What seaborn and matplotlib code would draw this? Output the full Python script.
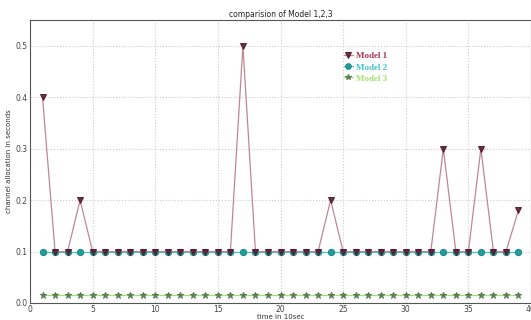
import numpy as np
import pandas as pd
import matplotlib
matplotlib.use("Agg")
import matplotlib.pyplot as plt
import seaborn as sns

# time steps (in 10 sec units)
time_steps = list(range(1, 40))

model1 = [0.4, 0.1, 0.1, 0.2, 0.1, 0.1, 0.1, 0.1, 0.1, 0.1,
          0.1, 0.1, 0.1, 0.1, 0.1, 0.1, 0.5, 0.1, 0.1, 0.1,
          0.1, 0.1, 0.1, 0.2, 0.1, 0.1, 0.1, 0.1, 0.1, 0.1,
          0.1, 0.1, 0.3, 0.1, 0.1, 0.3, 0.1, 0.1, 0.18]
model2 = [0.1] * 39
model3 = [0.015] * 39

x_ticks = [0, 5, 10, 15, 20, 25, 30, 35, 40]
y_ticks = [0.0, 0.1, 0.2, 0.3, 0.4, 0.5]

sns.set_style("whitegrid", {"grid.linestyle": ":", "grid.color": "#cccccc",
                            "axes.edgecolor": "#555555"})

df = pd.DataFrame({"t": time_steps, "Model 1": model1,
                   "Model 2": model2, "Model 3": model3})

fig = plt.figure(figsize=(5.31, 3.2), dpi=100)
ax = fig.add_axes([30 / 531, 1 - 303 / 320, 501 / 531, 283 / 320])

# Model 3 first, Model 2, then Model 1 on top
sns.lineplot(data=df, x="t", y="Model 3", ax=ax, color="#9de07c", lw=0.9,
             marker="*", markersize=4.5, markerfacecolor="#5d7d55",
             markeredgecolor="#5d7d55", label="Model 3")
sns.lineplot(data=df, x="t", y="Model 2", ax=ax, color="#55c0c0", lw=0.9,
             marker="o", markersize=4.5, markerfacecolor="#239c9c",
             markeredgecolor="#1f8a8a", label="Model 2")
sns.lineplot(data=df, x="t", y="Model 1", ax=ax, color="#b87a8a", lw=0.9,
             marker="v", markersize=4.5, markerfacecolor="#5e1a30",
             markeredgecolor="#4a1a2a", alpha=0.9, label="Model 1")

ax.set_xlim(0, 40)
ax.set_ylim(0, 0.55)
ax.set_xticks(x_ticks)
ax.set_yticks(y_ticks)
ax.set_xticklabels([str(v) for v in x_ticks])
ax.set_yticklabels([f"{v:.1f}" for v in y_ticks])
ax.tick_params(labelsize=5.5, colors="#444444", length=0, pad=1.5)
for s in ax.spines.values():
    s.set_color("#555555")
    s.set_linewidth(0.8)

ax.set_title("comparision of Model 1,2,3", fontsize=5.5, pad=2, color="#222222")
ax.set_xlabel("time in 10sec", fontsize=5, color="#333333", labelpad=0)
ax.set_ylabel("channel allocation in seconds", fontsize=5, color="#333333",
              labelpad=3)

handles, labels = ax.get_legend_handles_labels()
order = [2, 1, 0]
leg = ax.legend([handles[i] for i in order], [labels[i] for i in order],
                loc="upper left", bbox_to_anchor=(0.61, 0.915), frameon=False,
                handlelength=1.0, handletextpad=0.4, labelspacing=0.3,
                markerscale=0.9,
                prop={"family": "Liberation Serif", "weight": "bold", "size": 6.5})
text_colors = ["#a8324f", "#3cc3c8", "#a5e06c"]
for t, c in zip(leg.get_texts(), text_colors):
    t.set_color(c)

fig.savefig("out.png", dpi=100)
